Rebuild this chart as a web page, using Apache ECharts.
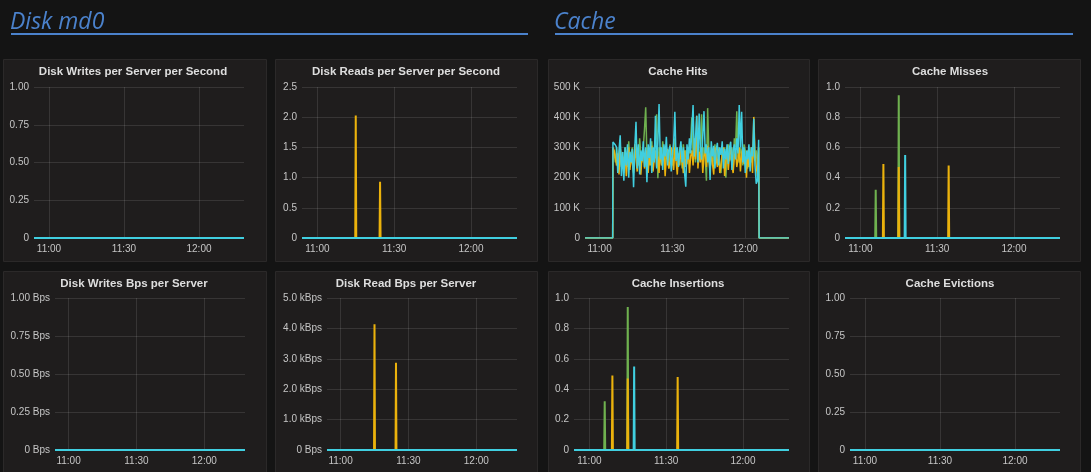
<!DOCTYPE html>
<html><head><meta charset="utf-8">
<script src="https://cdn.jsdelivr.net/npm/echarts@6/dist/echarts.min.js"></script>
<style>html,body{margin:0;padding:0;background:#141414;}#c{width:1091px;height:472px;}</style>
</head><body><div id="c"></div>
<script>
// ---------- data ----------
const xStart = '10:54:00', xEnd = '12:18:00';
const xTickLabels = ['11:00', '11:30', '12:00'];
const sectionTitles = ['Disk md0', 'Cache'];
const panelTitles = [
  'Disk Writes per Server per Second', 'Disk Reads per Server per Second', 'Cache Hits', 'Cache Misses',
  'Disk Writes Bps per Server', 'Disk Read Bps per Server', 'Cache Insertions', 'Cache Evictions'
];
const yMax  = [1, 2.5, 500, 1, 1, 5, 1, 1];
const yStep = [0.25, 0.5, 100, 0.2, 0.25, 1, 0.2, 0.25];

// flat (all-zero) series
const flatTimes = ['10:54:00', '12:18:00'];
const flatValues = [0, 0];

// Disk reads per second (yellow)
const readsTimes = ['11:15:00', '11:24:30'];
const readsValues = [2.03, 0.93];
// Disk read Bps (kBps, yellow)
const readBpsTimes = ['11:15:00', '11:24:30'];
const readBpsValues = [4.14, 2.87];
// Cache misses
const missGreenTimes = ['11:06:00', '11:15:00'];
const missGreenValues = [0.32, 0.945];
const missYellowTimes = ['11:09:00', '11:15:00', '11:34:30'];
const missYellowValues = [0.49, 0.47, 0.48];
const missCyanTimes = ['11:17:30'];
const missCyanValues = [0.55];
// Cache insertions
const insGreenTimes = ['11:06:00', '11:15:00'];
const insGreenValues = [0.32, 0.94];
const insYellowTimes = ['11:09:00', '11:15:00', '11:34:30'];
const insYellowValues = [0.49, 0.47, 0.48];
const insCyanTimes = ['11:17:30'];
const insCyanValues = [0.55];

// Cache hits (K), samples every 30 s from 11:05:30 to 12:05:30
const hitsStart = '11:05:30';
const hitsStepSec = 30;
const hitsGreen = [295,
 285,250, 300,230, 270,310, 240,285, 225,300, 270,235, 320,250, 280,300, 225,290, 265,300,
 240,330, 275,250, 300,360, 433,270, 300,240, 280,320, 250,295, 330,410, 198,300, 270,245,
 320,280, 250,300, 275,230, 310,265, 240,295, 330,260, 285,240, 300,270, 230,310, 265,290,
 245,300, 280,320, 400,270, 300,250, 320,280, 260,305, 410,250, 300,270, 190,430, 280,260,
 300,240, 270,310, 250,290, 300,245, 215,285, 270,300, 200,280, 310,255, 265,300, 240,330,
 300,420, 270,250, 300,280, 240,310, 290,260, 230,300, 275,250, 300,270, 255,290, 240,300];
const hitsYellow = [300,
 290,265, 240,280, 210,300, 235,270, 215,290, 205,260, 300,225, 270,245, 215,310, 260,220,
 285,240, 210,275, 300,230, 255,290, 215,270, 240,305, 220,260, 290,235, 270,215, 300,240,
 260,285, 205,270, 295,230, 250,300, 270,225, 300,255, 210,280, 240,295, 265,215, 290,235,
 250,300, 215,270, 290,240, 330,260, 405,230, 285,250, 300,215, 270,290, 235,305, 260,220,
 290,245, 210,300, 265,235, 295,215, 240,280, 300,205, 255,290, 225,275, 300,240, 215,270,
 290,235, 260,300, 220,280, 300,245, 270,200, 290,235, 250,300, 215,401, 280,240, 205,300];
const hitsCyan = [318,
 312,308, 300,215, 290,340, 205,285, 190,300, 240,310, 200,285, 250,295, 168,300, 385,230,
 310,210, 290,255, 320,235, 300,185, 310,265, 330,215, 300,250, 405,230, 320,444, 260,300,
 225,310, 270,335, 240,290, 305,220, 280,315, 418,255, 300,235, 290,320, 250,300, 215,170,
 310,260, 330,280, 360,440, 270,330, 405,250, 412,300, 260,340, 420,280, 310,250, 300,192,
 320,270, 305,230, 290,315, 240,300, 275,320, 230,295, 260,310, 245,300, 319,225, 290,310,
 260,330, 280,440, 300,418, 250,300, 215,290, 260,310, 220,300, 270,395, 240,180, 190,325];

// ---------- helpers ----------
// time of day -> minutes since midnight
function tm(s) { const p = s.split(':').map(Number); return p[0] * 60 + p[1] + (p[2] || 0) / 60; }
function pad(n) { return (n < 10 ? '0' : '') + n; }
function pairs(times, values) { return times.map((t, i) => [tm(t), values[i]]); }
function spikes(times, values) {
  const d = [[tm(xStart), 0]];
  times.forEach((t, i) => { const c = tm(t); d.push([c - 0.2, 0], [c, values[i]], [c + 0.2, 0]); });
  d.push([tm(xEnd), 0]);
  return d;
}
function hitsData(vals) {
  const s = tm(hitsStart), st = hitsStepSec / 60;
  const d = [[tm(xStart), 0], [s - 0.1, 0]];
  vals.forEach((v, i) => d.push([s + i * st, v]));
  const last = s + (vals.length - 1) * st;
  d.push([last + 0.2, 0], [tm(xEnd), 0]);
  return d;
}

// ---------- style / layout ----------
const C = { green: '#6fb14f', yellow: '#ebb20c', cyan: '#40cfe0' };
const labelColor = '#c6c6c6';
const gridColor = 'rgba(255,255,255,0.11)';
const panelRects = [
  [3, 59, 263, 202], [275, 59, 262, 202], [548, 59, 261, 202], [818, 59, 262, 202],
  [3, 271, 263, 215], [275, 271, 262, 215], [548, 271, 261, 215], [818, 271, 262, 215]
];
const gridRects = [
  [34, 87, 210, 151], [302, 87, 215, 151], [585, 87, 204, 151], [845, 87, 215, 151],
  [55, 298, 190, 152], [327, 298, 190, 152], [574, 298, 215, 152], [850, 298, 210, 152]
];
const titleCenters = [133, 406, 678, 950, 134, 406, 678, 950];

const yFmt = [
  v => v === 0 ? '0' : v.toFixed(2),
  v => v === 0 ? '0' : v.toFixed(1),
  v => v === 0 ? '0' : v + ' K',
  v => v === 0 ? '0' : v.toFixed(1),
  v => v === 0 ? '0 Bps' : v.toFixed(2) + ' Bps',
  v => v === 0 ? '0 Bps' : v.toFixed(1) + ' kBps',
  v => v === 0 ? '0' : v.toFixed(1),
  v => v === 0 ? '0' : v.toFixed(2)
];
function tFmt(v) { const m = Math.round(v); return pad(Math.floor(m / 60)) + ':' + pad(m % 60); }
const xTickValues = xTickLabels.map(tm);

const grids = [], xAxes = [], yAxes = [], titles = [], graphics = [];
for (let i = 0; i < 8; i++) {
  const g = gridRects[i];
  grids.push({ left: g[0], top: g[1], width: g[2], height: g[3] });
  xAxes.push({
    type: 'value', gridIndex: i, min: tm(xStart), max: tm(xEnd),
    axisLine: { show: false },
    axisTick: { show: false, customValues: xTickValues },
    axisLabel: { color: labelColor, fontSize: 10, margin: 6, formatter: tFmt, customValues: xTickValues },
    splitLine: { show: true, lineStyle: { color: gridColor, width: 1 } }
  });
  yAxes.push({
    type: 'value', gridIndex: i, min: 0, max: yMax[i], interval: yStep[i],
    axisLine: { show: false }, axisTick: { show: false },
    axisLabel: { color: labelColor, fontSize: 10, margin: 5, formatter: yFmt[i] },
    splitLine: { show: true, lineStyle: { color: gridColor, width: 1 } }
  });
  titles.push({
    text: panelTitles[i], left: titleCenters[i], textAlign: 'center', top: i < 4 ? 66 : 278, padding: 0,
    textStyle: { color: '#dedede', fontSize: 11.5, fontWeight: 'bold', fontFamily: 'Liberation Sans, Arial, sans-serif' }
  });
  const p = panelRects[i];
  graphics.push({ type: 'rect', z: -10, shape: { x: p[0] + 0.5, y: p[1] + 0.5, width: p[2], height: p[3] },
    style: { fill: '#1f1d1d', stroke: '#2b2929', lineWidth: 1 } });
}
titles.push({ text: sectionTitles[0], left: 10, top: 11, padding: 0,
  textStyle: { color: '#4b82cc', fontSize: 23, fontStyle: 'italic', fontWeight: 'normal', fontFamily: 'Open Sans, sans-serif' } });
titles.push({ text: sectionTitles[1], left: 554, top: 11, padding: 0,
  textStyle: { color: '#4b82cc', fontSize: 23, fontStyle: 'italic', fontWeight: 'normal', fontFamily: 'Open Sans, sans-serif' } });
graphics.push({ type: 'line', z: -5, shape: { x1: 11, y1: 34, x2: 528, y2: 34 }, style: { stroke: '#4b82cc', lineWidth: 2 } });
graphics.push({ type: 'line', z: -5, shape: { x1: 555, y1: 34, x2: 1073, y2: 34 }, style: { stroke: '#4b82cc', lineWidth: 2 } });

function line(idx, color, data, w) {
  return { type: 'line', xAxisIndex: idx, yAxisIndex: idx, data: data, showSymbol: false, symbol: 'none',
    lineStyle: { color: color, width: w || 2 }, itemStyle: { color: color }, silent: true };
}
const flat = pairs(flatTimes, flatValues);
const series = [
  line(0, C.green, flat), line(0, C.yellow, flat), line(0, C.cyan, flat),
  line(1, C.yellow, spikes(readsTimes, readsValues)), line(1, C.cyan, flat),
  line(2, C.green, hitsData(hitsGreen), 1.5), line(2, C.yellow, hitsData(hitsYellow), 1.5), line(2, C.cyan, hitsData(hitsCyan), 1.5),
  line(3, C.green, spikes(missGreenTimes, missGreenValues)), line(3, C.yellow, spikes(missYellowTimes, missYellowValues)),
  line(3, C.cyan, spikes(missCyanTimes, missCyanValues)),
  line(4, C.green, flat), line(4, C.yellow, flat), line(4, C.cyan, flat),
  line(5, C.yellow, spikes(readBpsTimes, readBpsValues)), line(5, C.cyan, flat),
  line(6, C.green, spikes(insGreenTimes, insGreenValues)), line(6, C.yellow, spikes(insYellowTimes, insYellowValues)),
  line(6, C.cyan, spikes(insCyanTimes, insCyanValues)),
  line(7, C.green, flat), line(7, C.yellow, flat), line(7, C.cyan, flat)
];

const chart = echarts.init(document.getElementById('c'), null, { renderer: 'canvas' });
chart.setOption({
  backgroundColor: '#141414',
  animation: false,
  textStyle: { fontFamily: 'Liberation Sans, Arial, sans-serif' },
  title: titles, grid: grids, xAxis: xAxes, yAxis: yAxes, graphic: graphics, series: series
});
</script></body></html>
